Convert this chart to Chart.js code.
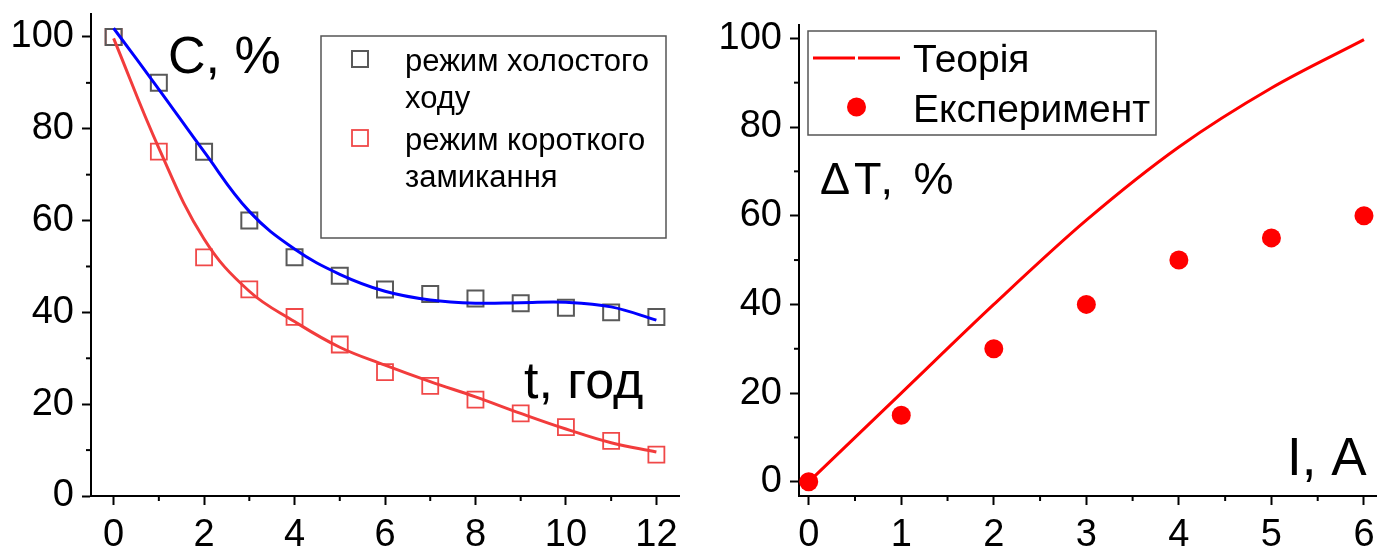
<!DOCTYPE html>
<html>
<head>
<meta charset="utf-8">
<script src="https://cdn.jsdelivr.net/npm/chart.js@4.4.1/dist/chart.umd.min.js"></script>
<style>
  html, body { margin: 0; background: #fff; overflow: hidden; width: 1378px; height: 546px; }
  canvas { position: absolute; top: 0; }
  #left { left: 0; }
  #right { left: 689px; }
</style>
</head>
<body>
<!-- canvases are a bit wider than half the page: Chart.js keeps room for the edge markers -->
<canvas id="left" width="693" height="546" style="width:693px;height:546px"></canvas>
<canvas id="right" width="697" height="546" style="width:697px;height:546px"></canvas>
<script>
// left chart: концентрація vs час
const hours = [0, 1, 2, 3, 4, 5, 6, 7, 8, 9, 10, 11, 12];
const idleMeasured = [100, 90, 75, 60, 52, 48, 45, 44, 43, 42, 41, 40, 39];
const shortMeasured = [100, 75, 52, 45, 39, 33, 27, 24, 21, 18, 15, 12, 9];
const idleFit = [101.9, 88.6, 75, 62, 53.8, 48.3, 44.6, 42.7, 42.0, 42.1, 42.2, 41.2, 38.3];
const shortFit = [99.7, 75.8, 56, 44.6, 38.0, 32.4, 28.5, 24.9, 21.6, 18.0, 14.6, 11.6, 9.6];

// right chart: перегрів vs струм
const currents = [0, 1, 2, 3, 4, 5, 6];
const theory = [0, 20, 40, 59, 75.5, 88.8, 99.7];
const experiment = [0, 15, 30, 40, 50, 55, 60];

const leftLegend = ['режим холостого', 'ходу', 'режим короткого', 'замикання'];
const rightLegend = ['Теорія', 'Експеримент'];

const FONT = "'Liberation Sans', Arial, sans-serif";

function pairs(xs, ys) {
  return xs.map((x, i) => ({ x: x, y: ys[i] }));
}

function axis(min, max, step) {
  return {
    type: 'linear',
    min: min,
    max: max,
    grid: { drawOnChartArea: false, drawTicks: true, tickLength: 9, tickWidth: 2, tickColor: '#000' },
    border: { display: true, color: '#000', width: 2 },
    ticks: {
      stepSize: step,
      includeBounds: false,
      color: '#000',
      padding: 8,
      maxRotation: 0,
      autoSkip: false,
      font: { family: FONT, size: 38 }
    }
  };
}

function fixX(h) {
  return (scale) => {
    scale.height = h;
    scale.paddingLeft = 0;
    scale.paddingRight = 0;
  };
}
function fixY(w) {
  return (scale) => {
    scale.width = w;
    scale.paddingTop = 0;
    scale.paddingBottom = 0;
  };
}

// small ticks between the labelled ones
const minorTicks = {
  id: 'minorTicks',
  afterDraw(chart, args, opts) {
    const ctx = chart.ctx;
    const xs = chart.scales.x;
    const ys = chart.scales.y;
    ctx.save();
    ctx.strokeStyle = '#000';
    ctx.lineWidth = 2;
    for (let v = opts.xFrom; v <= xs.max; v += opts.xStep) {
      const px = xs.getPixelForValue(v);
      ctx.beginPath();
      ctx.moveTo(px, xs.top);
      ctx.lineTo(px, xs.top + 5);
      ctx.stroke();
    }
    for (let v = opts.yFrom; v <= ys.max; v += opts.yStep) {
      const py = ys.getPixelForValue(v);
      ctx.beginPath();
      ctx.moveTo(ys.right, py);
      ctx.lineTo(ys.right - 5, py);
      ctx.stroke();
    }
    ctx.restore();
  }
};

// axis names and legend boxes drawn inside the plot
const decorations = {
  id: 'decorations',
  afterDraw(chart, args, opts) {
    const ctx = chart.ctx;
    ctx.save();
    ctx.textBaseline = 'alphabetic';
    ctx.textAlign = 'left';
    ctx.fillStyle = '#000';
    (opts.texts || []).forEach((t) => {
      ctx.font = t.size + 'px ' + FONT;
      ctx.letterSpacing = (t.spacing || 0) + 'px';
      ctx.fillText(t.text, t.x, t.y);
    });
    ctx.letterSpacing = '0px';
    if (opts.box) {
      const b = opts.box;
      ctx.strokeStyle = '#555';
      ctx.lineWidth = 1.5;
      ctx.strokeRect(b.x, b.y, b.w, b.h);
    }
    (opts.marks || []).forEach((m) => {
      if (m.type === 'square') {
        ctx.strokeStyle = m.color;
        ctx.lineWidth = m.width;
        ctx.strokeRect(m.x - 8, m.y - 8, 16, 16);
      } else if (m.type === 'dot') {
        ctx.fillStyle = m.color;
        ctx.beginPath();
        ctx.arc(m.x, m.y, 9.5, 0, Math.PI * 2);
        ctx.fill();
      } else if (m.type === 'line') {
        ctx.strokeStyle = m.color;
        ctx.lineWidth = 3;
        ctx.setLineDash([42, 3]);
        ctx.beginPath();
        ctx.moveTo(m.x1, m.y);
        ctx.lineTo(m.x2, m.y);
        ctx.stroke();
        ctx.setLineDash([]);
      }
    });
    ctx.restore();
  }
};

const leftX = axis(-0.5, 12.5, 2);
leftX.afterFit = fixX(50);
const leftY = axis(0, 105, 20);
leftY.afterFit = fixY(91);

new Chart(document.getElementById('left'), {
  type: 'line',
  data: {
    datasets: [
      {
        label: 'idle fit',
        data: pairs(hours, idleFit),
        borderColor: '#0000ff',
        borderWidth: 3,
        pointRadius: 0,
        tension: 0.4,
        clip: false
      },
      {
        label: 'short fit',
        data: pairs(hours, shortFit),
        borderColor: '#f23c3c',
        borderWidth: 3,
        pointRadius: 0,
        tension: 0.4,
        clip: false
      },
      {
        label: leftLegend[0] + ' ' + leftLegend[1],
        data: pairs(hours, idleMeasured),
        showLine: false,
        pointStyle: 'rect',
        pointRadius: 11.3,
        pointBorderWidth: 2,
        pointBorderColor: '#595959',
        pointBackgroundColor: 'rgba(0,0,0,0)',
        clip: false
      },
      {
        label: leftLegend[2] + ' ' + leftLegend[3],
        data: pairs(hours, shortMeasured),
        showLine: false,
        pointStyle: 'rect',
        pointRadius: 11.3,
        pointBorderWidth: 1.8,
        pointBorderColor: '#f04848',
        pointBackgroundColor: 'rgba(0,0,0,0)',
        clip: false
      }
    ]
  },
  options: {
    responsive: false,
    animation: false,
    layout: { padding: { left: 0, top: 14, right: 14, bottom: 0 } },
    scales: { x: leftX, y: leftY },
    plugins: {
      legend: { display: false },
      tooltip: { enabled: false },
      minorTicks: { xFrom: 1, xStep: 2, yFrom: 10, yStep: 20 },
      decorations: {
        texts: [
          { text: 'C, %', x: 168, y: 73, size: 52 },
          { text: 't, год', x: 524, y: 398, size: 52 },
          { text: leftLegend[0], x: 405, y: 71, size: 31 },
          { text: leftLegend[1], x: 405, y: 108, size: 31 },
          { text: leftLegend[2], x: 405, y: 150, size: 31 },
          { text: leftLegend[3], x: 405, y: 187, size: 31 }
        ],
        box: { x: 321, y: 36, w: 345, h: 202 },
        marks: [
          { type: 'square', x: 360, y: 59, color: '#595959', width: 2 },
          { type: 'square', x: 360, y: 138, color: '#f04848', width: 1.8 }
        ]
      }
    }
  },
  plugins: [minorTicks, decorations]
});

const rightX = axis(-0.105, 6.13, 1);
rightX.afterFit = fixX(50);
const rightY = axis(-3.2, 103, 20);
rightY.afterFit = fixY(110);

new Chart(document.getElementById('right'), {
  type: 'line',
  data: {
    datasets: [
      {
        label: rightLegend[0],
        data: pairs(currents, theory),
        borderColor: '#ff0000',
        borderWidth: 3,
        pointRadius: 0,
        cubicInterpolationMode: 'monotone',
        clip: false
      },
      {
        label: rightLegend[1],
        data: pairs(currents, experiment),
        showLine: false,
        pointStyle: 'circle',
        pointRadius: 9.5,
        pointBorderWidth: 0,
        pointBackgroundColor: '#ff0000',
        clip: false
      }
    ]
  },
  options: {
    responsive: false,
    animation: false,
    layout: { padding: { left: 0, top: 25, right: 10, bottom: 0 } },
    scales: { x: rightX, y: rightY },
    plugins: {
      legend: { display: false },
      tooltip: { enabled: false },
      minorTicks: { xFrom: 0.5, xStep: 1, yFrom: 10, yStep: 20 },
      decorations: {
        texts: [
          { text: 'ΔT, %', x: 131, y: 194, size: 45, spacing: 4 },
          { text: 'I, A', x: 598, y: 475, size: 53 },
          { text: rightLegend[0], x: 224, y: 72, size: 39 },
          { text: rightLegend[1], x: 224, y: 122, size: 39 }
        ],
        box: { x: 119, y: 31, w: 348, h: 104 },
        marks: [
          { type: 'line', x1: 124, x2: 212, y: 58, color: '#ff0000' },
          { type: 'dot', x: 167.5, y: 107, color: '#ff0000' }
        ]
      }
    }
  },
  plugins: [minorTicks, decorations]
});
</script>
</body>
</html>
